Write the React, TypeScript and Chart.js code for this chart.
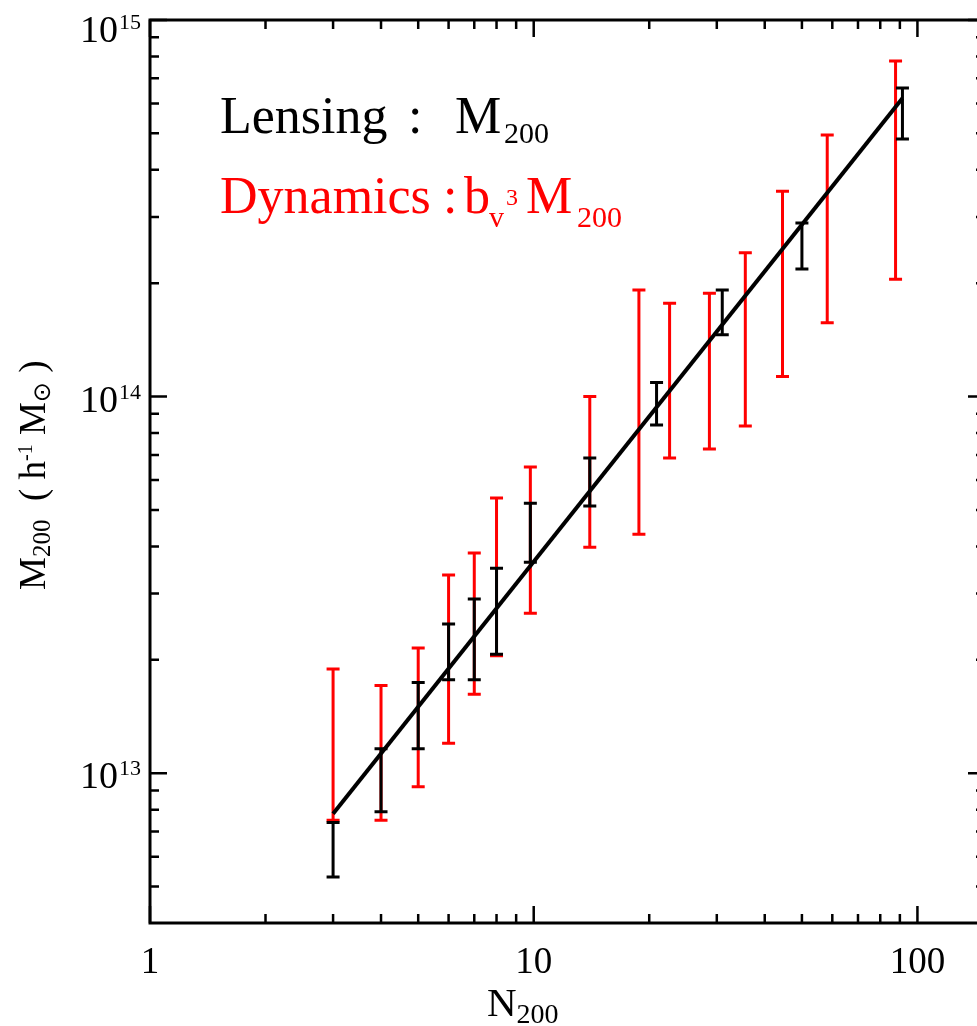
import React, { useEffect, useRef } from "react";
import { Chart, registerables } from "chart.js";

Chart.register(...registerables);

// Lensing masses (black) per richness bin: centre N200 and the 1-sigma range
const lensN = [3, 4, 5, 6, 7, 8, 9.8, 14, 20.9, 31, 50, 91.4];
const lensLow = [5.3e12, 7.9e12, 1.16e13, 1.77e13, 1.77e13, 2.07e13, 3.63e13, 5.12e13, 8.4e13, 1.46e14, 2.18e14, 4.83e14];
const lensHigh = [7.4e12, 1.16e13, 1.74e13, 2.49e13, 2.9e13, 3.5e13, 5.21e13, 6.87e13, 1.09e14, 1.92e14, 2.89e14, 6.6e14];

// Dynamical masses (red), b_v^3 M200
const dynN = [3, 4, 5, 6, 7, 8, 9.8, 14, 18.8, 22.6, 28.7, 35.6, 44.5, 58.2, 87.7];
const dynLow = [7.5e12, 7.5e12, 9.2e12, 1.2e13, 1.62e13, 2.05e13, 2.66e13, 3.98e13, 4.31e13, 6.87e13, 7.26e13, 8.35e13, 1.13e14, 1.57e14, 2.05e14];
const dynHigh = [1.89e13, 1.71e13, 2.15e13, 3.36e13, 3.84e13, 5.38e13, 6.5e13, 1.0e14, 1.92e14, 1.77e14, 1.88e14, 2.41e14, 3.51e14, 4.95e14, 7.78e14];

// Power-law fit end points
const fitN = [3, 91.4];
const fitM = [7.8e12, 6.2e14];

// Axis ranges and labelled decades
const xMin = 1;
const xMax = 150;
const yMin = 4e12;
const yMax = 1e15;
const xMajor = [1, 10, 100];
const xMajorLabels = ["1", "10", "100"];
const yMajor = [1e13, 1e14, 1e15];
const yMajorExp = ["13", "14", "15"];

const SERIF = '"Liberation Serif", "Times New Roman", serif';

type Run = { t: string; size: number; dy?: number; font?: string };

function drawRuns(ctx: CanvasRenderingContext2D, runs: Run[], x: number, y: number) {
  let cx = x;
  for (const r of runs) {
    ctx.font = `${r.size}px ${r.font || SERIF}`;
    ctx.fillText(r.t, cx, y + (r.dy || 0));
    cx += ctx.measureText(r.t).width;
  }
}

function minorValues(lo: number, hi: number): number[] {
  const out: number[] = [];
  const e0 = Math.floor(Math.log10(lo));
  const e1 = Math.ceil(Math.log10(hi));
  for (let e = e0; e <= e1; e++) {
    for (let k = 2; k <= 9; k++) {
      const v = k * Math.pow(10, e);
      if (v > lo * 1.0001 && v < hi * 0.9999) out.push(v);
    }
  }
  return out;
}

const errorBars = {
  id: "errorBars",
  beforeDatasetsDraw(chart: any) {
    const { ctx, scales } = chart;
    const xs = scales.x;
    const ys = scales.y;
    const cap = 6.5;
    const draw = (ns: number[], lo: number[], hi: number[], color: string) => {
      ctx.save();
      ctx.strokeStyle = color;
      ctx.lineWidth = 3;
      ctx.lineCap = "butt";
      ns.forEach((n, i) => {
        const px = xs.getPixelForValue(n);
        const y0 = ys.getPixelForValue(lo[i]);
        const y1 = ys.getPixelForValue(hi[i]);
        ctx.beginPath();
        ctx.moveTo(px, y0);
        ctx.lineTo(px, y1);
        ctx.moveTo(px - cap, y0);
        ctx.lineTo(px + cap, y0);
        ctx.moveTo(px - cap, y1);
        ctx.lineTo(px + cap, y1);
        ctx.stroke();
      });
      ctx.restore();
    };
    draw(dynN, dynLow, dynHigh, "#ff0000");
    draw(lensN, lensLow, lensHigh, "#000000");
  },
};

const frame = {
  id: "frame",
  afterDraw(chart: any) {
    const { ctx, scales, chartArea } = chart;
    const { left, right, top, bottom } = chartArea;
    const xs = scales.x;
    const ys = scales.y;
    ctx.save();
    ctx.strokeStyle = "#000";
    ctx.fillStyle = "#000";
    ctx.lineWidth = 3;
    ctx.strokeRect(left, top, right - left, bottom - top);

    ctx.lineWidth = 2.5;
    const major = 17;
    const minor = 9;
    const tickX = (v: number, len: number) => {
      const px = xs.getPixelForValue(v);
      ctx.beginPath();
      ctx.moveTo(px, bottom);
      ctx.lineTo(px, bottom - len);
      ctx.moveTo(px, top);
      ctx.lineTo(px, top + len);
      ctx.stroke();
    };
    const tickY = (v: number, len: number) => {
      const py = ys.getPixelForValue(v);
      ctx.beginPath();
      ctx.moveTo(left, py);
      ctx.lineTo(left + len, py);
      ctx.moveTo(right, py);
      ctx.lineTo(right - len, py);
      ctx.stroke();
    };
    xMajor.forEach((v) => tickX(v, major));
    minorValues(xMin, xMax).forEach((v) => tickX(v, minor));
    yMajor.forEach((v) => tickY(v, major));
    minorValues(yMin, yMax).forEach((v) => tickY(v, minor));

    // x tick labels
    ctx.textBaseline = "alphabetic";
    ctx.textAlign = "center";
    ctx.font = `37px ${SERIF}`;
    xMajor.forEach((v, i) => {
      ctx.fillText(xMajorLabels[i], xs.getPixelForValue(v), bottom + 50);
    });

    // y tick labels: 10 with a raised exponent
    yMajor.forEach((v, i) => {
      const py = ys.getPixelForValue(v);
      const base = Math.max(py + 15, 42);
      ctx.textAlign = "right";
      ctx.font = `38px ${SERIF}`;
      ctx.fillText("10", left - 32, base);
      ctx.textAlign = "left";
      ctx.font = `22px ${SERIF}`;
      ctx.fillText(yMajorExp[i], left - 31, base - 13);
    });

    // x title
    ctx.textAlign = "left";
    drawRuns(ctx, [
      { t: "N", size: 41 },
      { t: "200", size: 28, dy: 7 },
    ], 487, 1016);

    // y title, rotated
    ctx.save();
    ctx.translate(45, 590);
    ctx.rotate(-Math.PI / 2);
    drawRuns(ctx, [
      { t: "M", size: 37 },
      { t: "200", size: 25, dy: 5 },
      { t: "  ( h", size: 37 },
      { t: "-1", size: 20, dy: -13 },
      { t: " M", size: 37 },
      { t: "\u2299", size: 24, dy: 5, font: '"DejaVu Sans", sans-serif' },
      { t: " )", size: 37 },
    ], 0, 0);
    ctx.restore();

    // key text
    ctx.fillStyle = "#000";
    ctx.font = `52px ${SERIF}`;
    ctx.fillText("Lensing", 220, 133);
    ctx.fillText(":", 408, 133);
    ctx.fillText("M", 455, 133);
    ctx.font = `30px ${SERIF}`;
    ctx.fillText("200", 504, 143);

    ctx.fillStyle = "#ff0000";
    ctx.font = `52px ${SERIF}`;
    ctx.fillText("Dynamics", 220, 213);
    ctx.fillText(":", 443, 213);
    ctx.fillText("b", 464, 213);
    ctx.font = `30px ${SERIF}`;
    ctx.fillText("v", 489, 227);
    ctx.font = `24px ${SERIF}`;
    ctx.fillText("3", 506, 205);
    ctx.font = `52px ${SERIF}`;
    ctx.fillText("M", 526, 213);
    ctx.font = `30px ${SERIF}`;
    ctx.fillText("200", 577, 227);

    ctx.restore();
  },
};

export default function App() {
  const ref = useRef<HTMLCanvasElement | null>(null);
  useEffect(() => {
    if (!ref.current) return;
    const chart = new Chart(ref.current, {
      type: "scatter",
      data: {
        datasets: [
          {
            data: fitN.map((n, i) => ({ x: n, y: fitM[i] })),
            showLine: true,
            borderColor: "#000",
            borderWidth: 4,
            pointRadius: 0,
          },
        ],
      },
      options: {
        animation: false,
        responsive: false,
        devicePixelRatio: 1,
        layout: { padding: { left: 150, top: 20, right: 15, bottom: 103 } },
        plugins: { legend: { display: false }, tooltip: { enabled: false } },
        scales: {
          x: { type: "logarithmic", min: xMin, max: xMax, display: false },
          y: { type: "logarithmic", min: yMin, max: yMax, display: false },
        },
      },
      plugins: [errorBars, frame],
    });
    return () => chart.destroy();
  }, []);
  return (
    <div
      style={{
        position: "fixed",
        left: 0,
        top: 0,
        width: 977,
        height: 1026,
        overflow: "hidden",
        background: "#fff",
      }}
    >
      <canvas ref={ref} width={1000} height={1026} style={{ display: "block", width: 1000, height: 1026 }} />
    </div>
  );
}
